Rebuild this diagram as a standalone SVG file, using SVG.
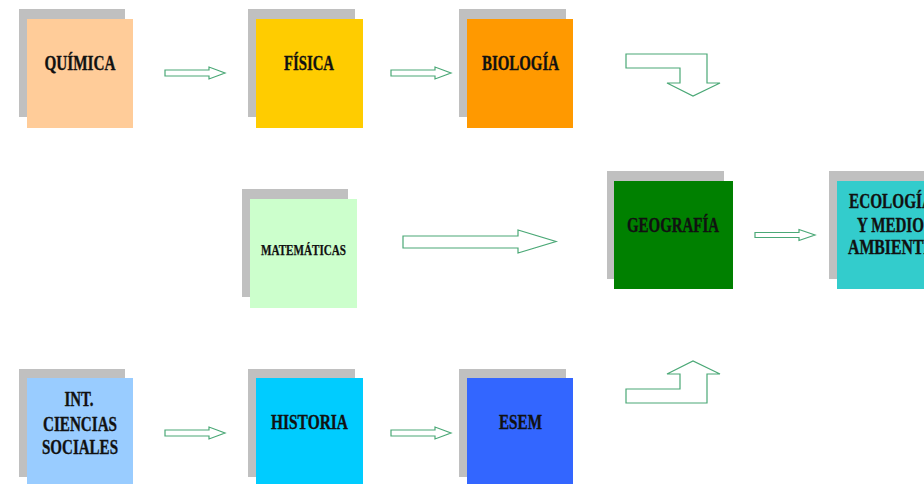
<svg xmlns="http://www.w3.org/2000/svg" width="924" height="484" viewBox="0 0 924 484">
<style>
.sh{fill:#C0C0C0}
.t{font-family:"Liberation Serif","Times New Roman",serif;font-weight:bold;font-size:20px;fill:#111;stroke:#111;stroke-width:0.35;text-anchor:middle}
.a{fill:#fff;stroke:#4AA876;stroke-width:1.2;stroke-linejoin:miter}
</style>
<rect width="924" height="484" fill="#fff"/>
<g id="quimica"><rect class="sh" x="19" y="9" width="106" height="108"/><rect x="27" y="19" width="106" height="109" fill="#FFCC99"/><text class="t" x="80" y="70" textLength="71" lengthAdjust="spacingAndGlyphs">QUÍMICA</text></g>
<g id="fisica"><rect class="sh" x="248" y="9" width="107" height="108"/><rect x="256" y="19" width="107" height="109" fill="#FFCC00"/><text class="t" x="309" y="70" textLength="50" lengthAdjust="spacingAndGlyphs">FÍSICA</text></g>
<g id="biologia"><rect class="sh" x="459" y="9" width="107" height="108"/><rect x="467" y="19" width="106" height="109" fill="#FF9900"/><text class="t" x="520.5" y="70" textLength="77" lengthAdjust="spacingAndGlyphs">BIOLOGÍA</text></g>
<g id="matematicas"><rect class="sh" x="242" y="189" width="106" height="108"/><rect x="250" y="199" width="107" height="109" fill="#CCFFCC"/><text class="t" x="303.5" y="255" style="font-size:14px;stroke-width:0.25" textLength="85" lengthAdjust="spacingAndGlyphs">MATEMÁTICAS</text></g>
<g id="geografia"><rect class="sh" x="607" y="171" width="117" height="108"/><rect x="614" y="181" width="119" height="108" fill="#008000"/><text class="t" x="673" y="232" textLength="92" lengthAdjust="spacingAndGlyphs">GEOGRAFÍA</text></g>
<g id="ecologia"><rect class="sh" x="829" y="171" width="117" height="108"/><rect x="837" y="181" width="119" height="108" fill="#33CCCC"/><text class="t" x="891" y="208" textLength="84" lengthAdjust="spacingAndGlyphs">ECOLOGÍA</text><text class="t" x="890.5" y="232" textLength="67" lengthAdjust="spacingAndGlyphs">Y MEDIO</text><text class="t" x="891" y="254" textLength="86" lengthAdjust="spacingAndGlyphs">AMBIENTE</text></g>
<g id="int_ciencias_sociales"><rect class="sh" x="19" y="369" width="106" height="108"/><rect x="27" y="378" width="106" height="106" fill="#99CCFF"/><text class="t" x="79" y="406" textLength="29" lengthAdjust="spacingAndGlyphs">INT.</text><text class="t" x="80" y="431" textLength="74" lengthAdjust="spacingAndGlyphs">CIENCIAS</text><text class="t" x="80" y="454" textLength="76" lengthAdjust="spacingAndGlyphs">SOCIALES</text></g>
<g id="historia"><rect class="sh" x="248" y="369" width="107" height="108"/><rect x="256" y="378" width="107" height="106" fill="#00CCFF"/><text class="t" x="309.5" y="429" textLength="77" lengthAdjust="spacingAndGlyphs">HISTORIA</text></g>
<g id="esem"><rect class="sh" x="459" y="369" width="107" height="108"/><rect x="467" y="378" width="106" height="106" fill="#3366FF"/><text class="t" x="520.5" y="429" textLength="43" lengthAdjust="spacingAndGlyphs">ESEM</text></g>
<g id="connectors">
<path class="a" d="M165,70 L209,70 L209,67 L225,73 L209,79 L209,76 L165,76 Z"/>
<path class="a" d="M391,70 L435,70 L435,67 L451,73 L435,79 L435,76 L391,76 Z"/>
<path class="a" d="M165,430 L209,430 L209,427 L225,433 L209,439 L209,436 L165,436 Z"/>
<path class="a" d="M391,430 L435,430 L435,427 L451,433 L435,439 L435,436 L391,436 Z"/>
<path class="a" d="M755,232.5 L799,232.5 L799,229.5 L815,235 L799,240.5 L799,237.5 L755,237.5 Z"/>
<path class="a" d="M403,236 L518,236 L518,230 L556,241.5 L518,253 L518,248 L403,248 Z"/>
<path class="a" d="M626,54 L707,54 L707,83 L720,83 L693,96 L667,83 L680,83 L680,68 L626,68 Z"/>
<path class="a" d="M626,389 L680,389 L680,374 L667,374 L693,361 L720,374 L707,374 L707,403 L626,403 Z"/>
</g>
</svg>
